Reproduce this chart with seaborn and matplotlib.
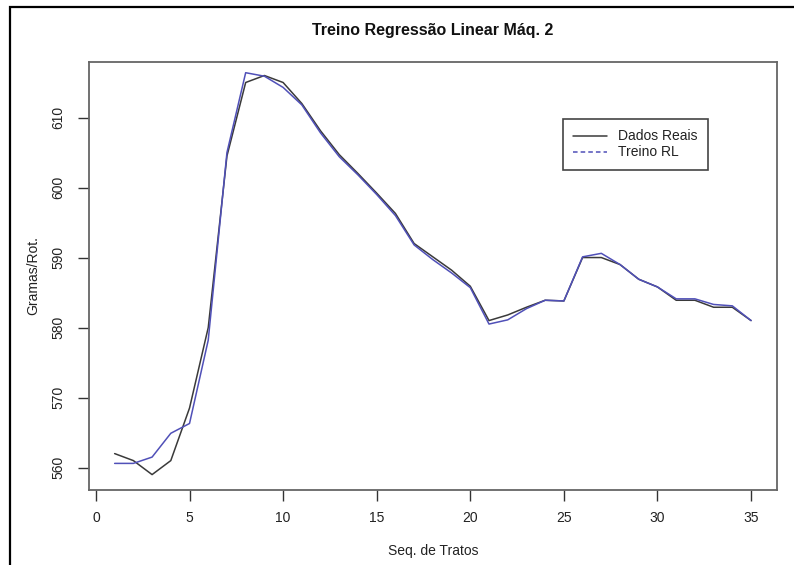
import matplotlib
matplotlib.use("Agg")
import matplotlib.pyplot as plt
import seaborn as sns
import pandas as pd
from matplotlib.lines import Line2D
from matplotlib.patches import Rectangle

seq = list(range(1, 36))
dados_reais = [562.0, 561.0, 559.0, 561.0, 568.5, 580.0, 604.5, 615.0, 616.0, 615.0,
               612.0, 608.1, 604.7, 602.0, 599.2, 596.3, 592.0, 590.1, 588.2, 585.9,
               581.0, 581.8, 582.9, 583.9, 583.8, 590.0, 590.0, 589.0, 586.9, 585.8,
               583.9, 583.9, 582.9, 582.9, 581.0]
treino_rl = [560.6, 560.6, 561.5, 564.9, 566.3, 578.2, 605.0, 616.4, 615.9, 614.3,
             611.8, 607.8, 604.4, 601.8, 599.0, 596.0, 591.8, 589.7, 587.8, 585.7,
             580.5, 581.1, 582.7, 583.9, 583.8, 590.1, 590.6, 589.0, 586.9, 585.8,
             584.1, 584.1, 583.3, 583.1, 581.0]
legend_labels = ["Dados Reais", "Treino RL"]
x_ticks = [0, 5, 10, 15, 20, 25, 30, 35]
y_ticks = [560, 570, 580, 590, 600, 610]

sns.set_style("white")
plt.rcParams["font.family"] = ["Liberation Sans", "DejaVu Sans"]

df = pd.DataFrame({"seq": seq, "real": dados_reais, "treino": treino_rl})

fig = plt.figure(figsize=(7.94, 5.65), dpi=100)
ax = fig.add_axes([89 / 794, 1 - 490 / 565, (776.7 - 89) / 794, (490 - 61.5) / 565])

black_c = "#3a3a3a"
blue_c = "#5050b8"
sns.lineplot(data=df, x="seq", y="real", ax=ax, color=black_c, linewidth=1.1)
sns.lineplot(data=df, x="seq", y="treino", ax=ax, color=blue_c, linewidth=1.1)

ax.set_xlim(-0.37, 36.37)
ax.set_ylim(556.8, 618.0)
ax.set_xticks(x_ticks)
ax.set_yticks(y_ticks)
ax.set_xticklabels([str(v) for v in x_ticks], fontsize=10, color="#222222")
ax.set_yticklabels([str(v) for v in y_ticks], fontsize=10, color="#222222",
                   rotation=90, va="center")
ax.tick_params(axis="x", direction="out", length=8, width=1, color="#333333",
               bottom=True, pad=7)
ax.tick_params(axis="y", direction="out", length=8, width=1, color="#333333",
               left=True, pad=9)
for s in ax.spines.values():
    s.set_visible(True)
    s.set_color("#666666")
    s.set_linewidth(1.3)

ax.set_xlabel("Seq. de Tratos", fontsize=10, color="#222222", labelpad=14)
ax.set_ylabel("Gramas/Rot.", fontsize=10, color="#222222", labelpad=8)
fig.text(433 / 794, 1 - 30 / 565, "Treino Regressão Linear Máq. 2", ha="center",
         va="center", fontsize=11.5, fontweight="bold", color="#111111")

handles = [Line2D([0], [0], color=black_c, lw=1.1, ls="-"),
           Line2D([0], [0], color=blue_c, lw=1.1, ls=(0, (3, 2)))]
leg = ax.legend(handles, legend_labels, loc="upper left",
                bbox_to_anchor=((563 - 89) / (776.7 - 89), (490 - 119) / (490 - 61.5)),
                fontsize=10, frameon=True, fancybox=False, framealpha=1,
                edgecolor="#444444", handlelength=2.4, borderpad=0.75,
                labelspacing=0.15, handletextpad=0.8, borderaxespad=0)
leg.get_frame().set_linewidth(1.2)
for t in leg.get_texts():
    t.set_color("#222222")

fig.patches.append(Rectangle((10 / 794, -0.05), 1.1, 1.05 - 7 / 565,
                             transform=fig.transFigure, fill=False,
                             edgecolor="black", linewidth=1.6))

fig.savefig("out.png", dpi=100)
